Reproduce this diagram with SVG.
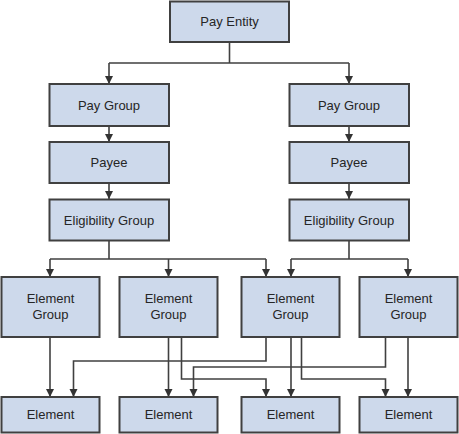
<svg xmlns="http://www.w3.org/2000/svg" width="459" height="434" viewBox="0 0 459 434">
<style>
.box{fill:#cdd9eb;stroke:#404040;stroke-width:2}
.lbl{font-family:"Liberation Sans",Arial,sans-serif;font-size:13px;fill:#262626;text-anchor:middle}
.c{fill:none;stroke:#404040;stroke-width:1.6}
.a{marker-end:url(#arr)}
</style>
<defs>
<marker id="arr" markerUnits="userSpaceOnUse" markerWidth="10" markerHeight="10" viewBox="0 0 10 10" refX="9" refY="5" orient="auto">
<path d="M1,1 L9,5 L1,9 Z" fill="#333"/>
</marker>
</defs>
<rect width="459" height="434" fill="#fff"/>
<g id="connectors">
<path class="c" d="M229.5,42 V63 M109,63 H349"/>
<path class="c a" d="M109,63 V84"/>
<path class="c a" d="M349,63 V84"/>
<path class="c a" d="M109,126 V142"/>
<path class="c a" d="M349,126 V142"/>
<path class="c a" d="M109,183 V199"/>
<path class="c a" d="M349,183 V199"/>
<path class="c" d="M109,241 V259 M50,259 H266 M349,241 V259 M291,259 H408"/>
<path class="c a" d="M50,259 V277"/>
<path class="c a" d="M168.5,259 V277"/>
<path class="c a" d="M266,259 V277"/>
<path class="c a" d="M291,259 V277"/>
<path class="c a" d="M408,259 V277"/>
<path class="c a" d="M50,337 V397"/>
<path class="c a" d="M168.5,337 V397"/>
<path class="c a" d="M181.5,337 V379 H266 V397"/>
<path class="c a" d="M266,337 V361 H73.5 V397"/>
<path class="c a" d="M291,337 V397"/>
<path class="c a" d="M301.5,337 V379 H385.5 V397"/>
<path class="c a" d="M385.5,337 V367 H193.5 V397"/>
<path class="c a" d="M408,337 V397"/>
</g>
<g id="pay-entity"><rect class="box" x="170" y="1.5" width="119" height="40.5"/><text class="lbl" x="229.5" y="26">Pay Entity</text></g>
<g id="pay-group-1"><rect class="box" x="49.5" y="84" width="119.5" height="42"/><text class="lbl" x="109" y="109.5">Pay Group</text></g>
<g id="pay-group-2"><rect class="box" x="289.5" y="84" width="119.5" height="42"/><text class="lbl" x="349" y="109.5">Pay Group</text></g>
<g id="payee-1"><rect class="box" x="49.5" y="142" width="119.5" height="41"/><text class="lbl" x="109" y="167">Payee</text></g>
<g id="payee-2"><rect class="box" x="289.5" y="142" width="119.5" height="41"/><text class="lbl" x="349" y="167">Payee</text></g>
<g id="elig-1"><rect class="box" x="49.5" y="199.5" width="119.5" height="41"/><text class="lbl" x="109" y="224.5">Eligibility Group</text></g>
<g id="elig-2"><rect class="box" x="289.5" y="199.5" width="119.5" height="41"/><text class="lbl" x="349" y="224.5">Eligibility Group</text></g>
<g id="eg-1"><rect class="box" x="1.5" y="277" width="98" height="60"/><text class="lbl" x="50.5" y="302.5">Element</text><text class="lbl" x="50.5" y="318.5">Group</text></g>
<g id="eg-2"><rect class="box" x="119.5" y="277" width="98" height="60"/><text class="lbl" x="168.5" y="302.5">Element</text><text class="lbl" x="168.5" y="318.5">Group</text></g>
<g id="eg-3"><rect class="box" x="241.5" y="277" width="98" height="60"/><text class="lbl" x="290.5" y="302.5">Element</text><text class="lbl" x="290.5" y="318.5">Group</text></g>
<g id="eg-4"><rect class="box" x="359.5" y="277" width="98" height="60"/><text class="lbl" x="408.5" y="302.5">Element</text><text class="lbl" x="408.5" y="318.5">Group</text></g>
<g id="el-1"><rect class="box" x="1.5" y="397" width="98" height="35.5"/><text class="lbl" x="50.5" y="419">Element</text></g>
<g id="el-2"><rect class="box" x="119.5" y="397" width="98" height="35.5"/><text class="lbl" x="168.5" y="419">Element</text></g>
<g id="el-3"><rect class="box" x="241.5" y="397" width="98" height="35.5"/><text class="lbl" x="290.5" y="419">Element</text></g>
<g id="el-4"><rect class="box" x="359.5" y="397" width="98" height="35.5"/><text class="lbl" x="408.5" y="419">Element</text></g>
</svg>
